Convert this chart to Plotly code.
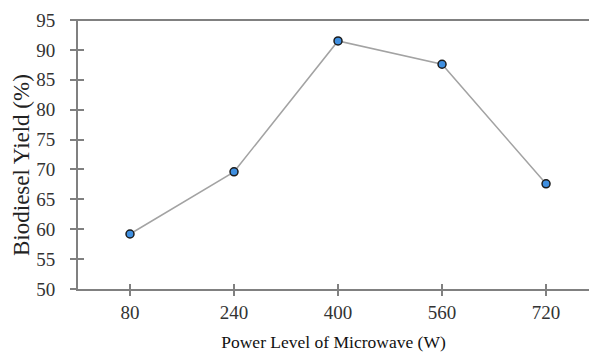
import plotly.graph_objects as go

power_levels = ["80", "240", "400", "560", "720"]
biodiesel_yield = [59.2, 69.6, 91.5, 87.6, 67.6]
y_ticks = [50, 55, 60, 65, 70, 75, 80, 85, 90, 95]

axis_color = "#808080"
font_family = "Liberation Serif"

fig = go.Figure()
fig.add_trace(go.Scatter(
    x=power_levels, y=biodiesel_yield, mode="lines+markers",
    line=dict(color="#a3a3a3", width=1.5),
    marker=dict(size=8, color="#3f8fe0", line=dict(color="#1c1c1c", width=1.5)),
    showlegend=False, cliponaxis=False,
))
# invisible trace for secondary (inside-tick) axes
fig.add_trace(go.Scatter(x=power_levels, y=biodiesel_yield, xaxis="x2", yaxis="y2",
                         mode="markers", marker=dict(opacity=0), showlegend=False,
                         hoverinfo="skip"))

xrange = [-0.5, 4.413]
yrange = [50, 95]

fig.update_layout(
    width=589, height=357,
    margin=dict(l=78, r=0, t=20, b=68),
    paper_bgcolor="white", plot_bgcolor="white",
    font=dict(family=font_family, color="#333333", size=19),
    xaxis=dict(
        type="category", categoryorder="array", categoryarray=power_levels,
        range=xrange, showgrid=False, zeroline=False,
        showline=True, linecolor=axis_color, linewidth=2,
        ticks="outside", ticklen=5, tickwidth=1.5, tickcolor=axis_color,
        ticklabelstandoff=0,
        tickfont=dict(size=19, color="#333333"),
        title=dict(text="Power Level of Microwave (W)", standoff=14,
                   font=dict(size=17.5, color="#111111", family=font_family)),
    ),
    yaxis=dict(
        range=yrange, tickvals=y_ticks, showgrid=False, zeroline=False,
        showline=True, linecolor=axis_color, linewidth=2,
        ticks="outside", ticklen=6, tickwidth=1.5, tickcolor=axis_color,
        ticklabelstandoff=11,
        tickfont=dict(size=19, color="#333333"),
    ),
    xaxis2=dict(
        type="category", categoryorder="array", categoryarray=power_levels,
        range=xrange, overlaying="x", anchor="y2", side="bottom",
        showgrid=False, zeroline=False, showline=False, showticklabels=False,
        ticks="inside", ticklen=5, tickwidth=1.5, tickcolor=axis_color,
    ),
    yaxis2=dict(
        range=yrange, tickvals=y_ticks, overlaying="y", anchor="x2", side="left",
        showgrid=False, zeroline=False, showline=False, showticklabels=False,
        ticks="inside", ticklen=6, tickwidth=1.5, tickcolor=axis_color,
    ),
    shapes=[dict(type="line", xref="paper", yref="paper", x0=-0.012, x1=1, y0=1, y1=1,
                 line=dict(color=axis_color, width=2))],
    annotations=[dict(text="Biodiesel Yield (%)", textangle=-90, showarrow=False,
                      xref="paper", yref="paper", x=-0.1096, y=0.461,
                      xanchor="center", yanchor="middle",
                      font=dict(size=23, color="#222222", family=font_family))],
)

fig.write_html("out.html")
